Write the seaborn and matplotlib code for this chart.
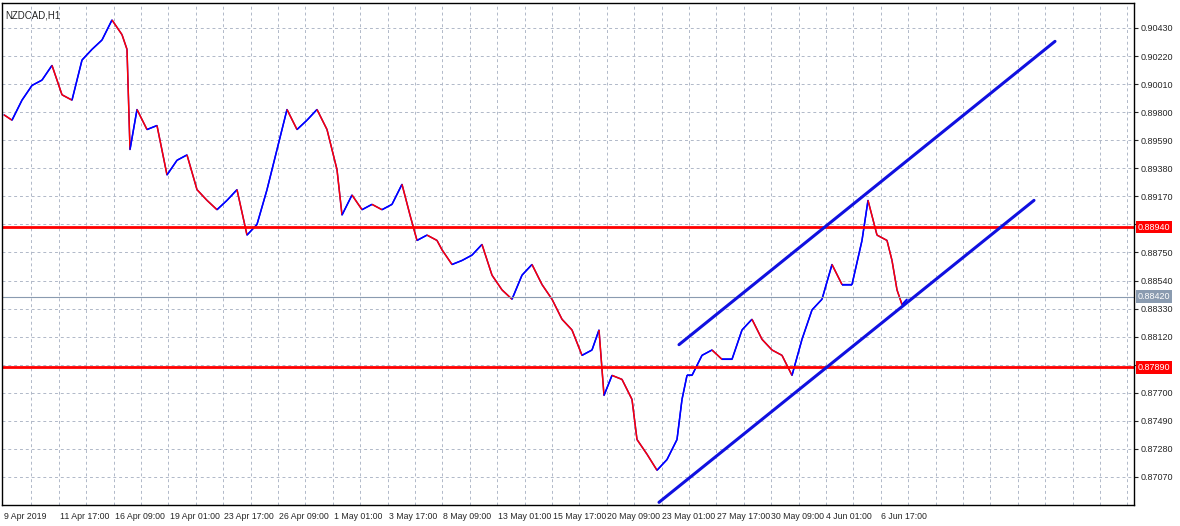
import matplotlib
matplotlib.use("Agg")
import matplotlib.pyplot as plt
import seaborn as sns
import numpy as np
import pandas as pd
from matplotlib.collections import LineCollection

sns.set_style("white")
plt.rcParams['font.family'] = ['Liberation Sans', 'DejaVu Sans']

bar_x = [2,10,20,30,40,50,60,70,80,90,100,110,120,125,128,135,145,155,165,175,185,195,205,215,225,235,245,255,265,275,285,295,305,315,325,335,340,350,360,370,380,390,400,408,415,425,435,440,450,460,470,480,490,500,510,520,530,540,550,560,570,580,590,597,602,610,620,630,635,645,655,665,675,680,685,690,700,710,720,730,740,750,760,770,780,790,800,810,820,830,840,850,860,866,875,885,890,895,900,905]
price = [0.8978,0.8974,0.8989,0.9000,0.9004,0.9015,0.8993,0.8989,0.9019,0.9027,0.9034,0.9049,0.9038,0.9027,0.8952,0.8982,0.8967,0.8970,0.8933,0.8944,0.8948,0.8922,0.8914,0.8907,0.8914,0.8922,0.8888,0.8896,0.8922,0.8952,0.8982,0.8967,0.8974,0.8982,0.8967,0.8937,0.8903,0.8918,0.8907,0.8911,0.8907,0.8911,0.8926,0.8903,0.8884,0.8888,0.8884,0.8877,0.8866,0.8869,0.8873,0.8881,0.8858,0.8847,0.8840,0.8858,0.8866,0.8851,0.8840,0.8825,0.8817,0.8798,0.8802,0.8817,0.8768,0.8783,0.8780,0.8765,0.8735,0.8724,0.8712,0.8720,0.8735,0.8765,0.8783,0.8783,0.8798,0.8802,0.8795,0.8795,0.8817,0.8825,0.8810,0.8802,0.8798,0.8783,0.8810,0.8832,0.8840,0.8866,0.8851,0.8851,0.8884,0.8914,0.8888,0.8884,0.8869,0.8847,0.8836,0.8840]
n = min(len(bar_x), len(price))
bar_x, price = bar_x[:n], price[:n]

tick_pos = [2,58,113,168,222,277,332,387,441,496,551,605,660,715,769,824,879]
tick_labels = ["9 Apr 2019","11 Apr 17:00","16 Apr 09:00","19 Apr 01:00","23 Apr 17:00","26 Apr 09:00","1 May 01:00","3 May 17:00","8 May 09:00","13 May 01:00","15 May 17:00","20 May 09:00","23 May 01:00","27 May 17:00","30 May 09:00","4 Jun 01:00","6 Jun 17:00"]
y_ticks = [0.87070,0.87280,0.87490,0.87700,0.87910,0.88120,0.88330,0.88540,0.88750,0.88960,0.89170,0.89380,0.89590,0.89800,0.90010,0.90220,0.90430]
levels = [0.88940, 0.87890]
current = 0.88420
upper_ch = ([677, 1053], [0.8806, 0.9033])
lower_ch = ([657, 1032], [0.8688, 0.8914])

W, H = 1180, 526
fig = plt.figure(figsize=(W/100, H/100), dpi=100)
ax = fig.add_axes([2/W, 21/H, 1132/W, 502/H])
ax.set_xlim(0, 1132)
ax.set_ylim(0.86860, 0.90617)

df = pd.DataFrame({"x": bar_x, "p": price})
sns.lineplot(data=df, x="x", y="p", ax=ax, color="blue", lw=1.0)
segs, cols = [], []
for i in range(1, n):
    segs.append([(bar_x[i-1], price[i-1]), (bar_x[i], price[i])])
    cols.append("red" if price[i] < price[i-1] else "blue")
ax.add_collection(LineCollection(segs, colors=cols, linewidths=1.1))

for lv in levels:
    ax.axhline(lv, color="red", lw=2)
ax.axhline(current, color="#8a9bb0", lw=0.8)
sns.lineplot(x=upper_ch[0], y=upper_ch[1], ax=ax, color="#1010e0", lw=2.2)
sns.lineplot(x=lower_ch[0], y=lower_ch[1], ax=ax, color="#1010e0", lw=2.2)

grid_x = np.arange(2, 1132, 27.4)
for gx in grid_x[1:]:
    ax.axvline(gx, color="#b0b8c8", lw=0.7, ls=(0, (3, 3)), zorder=0)
for gy in y_ticks:
    ax.axhline(gy, color="#b0b8c8", lw=0.7, ls=(0, (3, 3)), zorder=0)

ax.set_xticks(tick_pos)
ax.set_xticklabels(tick_labels, ha="left", fontsize=6.3)
ax.yaxis.tick_right()
ax.set_yticks(y_ticks)
hidden = [min(y_ticks, key=lambda t: abs(t - lv)) for lv in levels]
ax.set_yticklabels(["" if v in hidden else f"{v:.5f}" for v in y_ticks], fontsize=6.5)
ax.tick_params(length=3, pad=2)
ax.set_xlabel(""); ax.set_ylabel("")
for s in ax.spines.values():
    s.set_color("black"); s.set_linewidth(1)

for lv, c in [(levels[0], "red"), (levels[1], "red"), (current, "#8a9bb0")]:
    ax.text(1.003, lv, f"{lv:.5f}", transform=ax.get_yaxis_transform(), fontsize=6.5,
            color="white", va="center", ha="left", zorder=10,
            bbox=dict(boxstyle="square,pad=0.2", fc=c, ec="none"))
ax.text(0.003, 0.985, "NZDCAD,H1", transform=ax.transAxes, fontsize=7, va="top")
fig.savefig("out.png", dpi=100)
